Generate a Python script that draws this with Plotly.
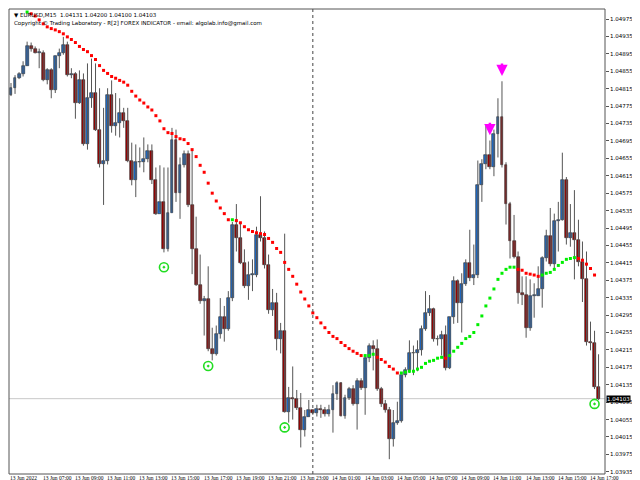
import plotly.graph_objects as go

# prices in points (1e-5)
first_open = 104800
closes = [104816,104839,104848,104868,104914,104907,104898,104898,104834,104857,
104812,104889,104896,104916,104846,104848,104782,104834,104687,104793,
104805,104721,104641,104648,104800,104730,104737,104759,104741,104648,
104605,104646,104646,104653,104671,104605,104528,104555,104446,104530,
104696,104575,104639,104666,104548,104446,104364,104327,104332,104216,
104205,104252,104291,104264,104334,104503,104471,104414,104362,104387,
104387,104480,104473,104409,104307,104323,104239,104259,104073,104105,
104102,104082,104032,104062,104077,104071,104080,104077,104068,104077,
104114,104139,104064,104105,104125,104091,104143,104127,104196,104223,
104218,104125,104091,104077,104011,104048,104052,104157,104168,104209,
104207,104214,104264,104300,104309,104239,104239,104250,104173,104291,
104373,104323,104366,104414,104380,104387,104593,104641,104662,104634,
104712,104750,104639,104550,104466,104428,104346,104341,104266,104339,
104339,104355,104425,104477,104412,104512,104514,104605,104473,104484,
104468,104416,104377,104234,104230,104130,104102]
highs = [104828,104846,104853,104878,104923,104921,104912,104907,104903,104862,
104862,104891,104907,104934,104923,104862,104853,104857,104850,104873,
104884,104873,104816,104771,104816,104834,104805,104793,104771,104771,
104691,104687,104680,104703,104687,104687,104634,104639,104634,104634,
104725,104721,104657,104673,104673,104673,104521,104434,104339,104407,
104266,104271,104334,104316,104350,104509,104550,104509,104446,104418,
104423,104498,104568,104487,104434,104355,104346,104277,104482,104130,
104177,104123,104116,104077,104100,104077,104089,104089,104084,104089,
104134,104143,104141,104112,104130,104134,104150,104150,104202,104230,
104237,104239,104130,104100,104084,104077,104096,104157,104175,104237,
104225,104237,104271,104350,104341,104312,104248,104259,104271,104291,
104384,104377,104391,104423,104491,104457,104650,104653,104732,104696,
104721,104793,104832,104646,104555,104525,104441,104384,104384,104377,
104368,104407,104430,104491,104541,104528,104555,104668,104612,104550,
104582,104514,104464,104441,104280,104259,104205]
lows = [104798,104803,104837,104843,104868,104900,104896,104862,104832,104825,
104793,104805,104862,104893,104843,104839,104746,104780,104684,104675,
104771,104718,104634,104548,104641,104714,104707,104703,104725,104646,
104593,104566,104634,104623,104646,104596,104525,104532,104439,104441,
104532,104555,104516,104634,104543,104389,104362,104321,104248,104212,
104191,104202,104241,104234,104259,104327,104441,104412,104357,104330,
104350,104382,104464,104402,104298,104293,104214,104207,104071,104048,
104055,104077,103991,104016,104062,104066,104062,104059,104062,104062,
104025,104100,104062,104057,104100,104087,104032,104123,104066,104187,
104168,104121,104084,104071,103964,103993,104043,104048,104152,104162,
104157,104166,104202,104259,104293,104234,104225,104202,104168,104171,
104275,104277,104255,104362,104373,104364,104380,104555,104630,104630,
104614,104657,104634,104503,104425,104425,104321,104318,104243,104259,
104289,104339,104312,104418,104407,104402,104441,104512,104457,104452,
104377,104407,104325,104225,104214,104125,104100]

trend_start = 4
trend = [104991,104987,104982,104973,104964,104957,104953,104950,104946,104941,
104934,104928,104921,104912,104905,104900,104891,104882,104868,104857,
104850,104843,104839,104834,104830,104823,104809,104798,104789,104782,
104773,104766,104753,104741,104723,104714,104712,104705,104700,104698,
104689,104675,104659,104639,104623,104598,104575,104557,104541,104528,
104514,104514,104512,104507,104498,104491,104487,104484,104482,104480,
104471,104462,104448,104439,104416,104400,104384,104366,104348,104332,
104316,104300,104289,104277,104266,104255,104246,104241,104232,104225,
104218,104212,104207,104202,104202,104202,104205,104198,104193,104187,
104177,104171,104162,104162,104164,104166,104166,104171,104175,104184,
104189,104191,104196,104198,104196,104202,104212,104221,104230,104241,
104246,104255,104273,104293,104316,104334,104355,104377,104391,104400,
104405,104405,104400,104398,104391,104389,104387,104384,104387,104391,
104393,104400,104409,104416,104423,104425,104427,104425,104421,104412,
104402,104387]

buy_bars = [38, 49, 68, 145]
sell_bars = [119, 122]
time_labels = ["13 Jun 2022","13 Jun 07:00","13 Jun 09:00","13 Jun 11:00","13 Jun 13:00",
"13 Jun 15:00","13 Jun 17:00","13 Jun 19:00","13 Jun 21:00","13 Jun 23:00",
"14 Jun 01:00","14 Jun 03:00","14 Jun 05:00","14 Jun 07:00","14 Jun 09:00",
"14 Jun 11:00","14 Jun 13:00","14 Jun 15:00","14 Jun 17:00"]
price_ticks = [1.03935 + 0.0004*k for k in range(27)]
day_sep_bar = 75
current_price = 1.04103

P = lambda v: v / 1e5
n = len(closes)
idx = list(range(n))
opens = [first_open] + closes[:-1]

fig = go.Figure()

wx, wy = [], []
for i in idx:
    wx += [i, i, None]
    wy += [P(highs[i]), P(lows[i]), None]
fig.add_trace(go.Scatter(x=wx, y=wy, mode="lines", line=dict(color="#555555", width=1),
    showlegend=False, hoverinfo="skip"))

bcol = ["#1f6fd1" if c >= o else "#a00000" for o, c in zip(opens, closes)]
base = [P(min(o, c)) for o, c in zip(opens, closes)]
hgt = [max(P(abs(c - o)), 0.000015) for o, c in zip(opens, closes)]
fig.add_trace(go.Bar(x=idx, y=hgt, base=base, width=0.72,
    marker=dict(color=bcol, line=dict(color="#222222", width=0.6)),
    showlegend=False, hoverinfo="skip"))

tx = list(range(trend_start, trend_start + len(trend)))
tcol = []
for k, v in enumerate(trend):
    if k == 0:
        tcol.append("#00ee00")
    else:
        tcol.append("#00ee00" if v >= trend[k-1] else "#ff0000")
fig.add_trace(go.Scatter(x=tx, y=[P(v) for v in trend], mode="markers",
    marker=dict(symbol="square", size=3, color=tcol, line=dict(width=0)),
    showlegend=False, hoverinfo="skip"))

fig.add_trace(go.Scatter(x=buy_bars, y=[P(lows[b]) - 0.00034 for b in buy_bars], mode="markers",
    marker=dict(symbol="circle-open-dot", size=9, color="#22dd22", line=dict(width=1.6)),
    showlegend=False, hoverinfo="skip"))

for b in sell_bars:
    fig.add_annotation(x=b, y=P(highs[b]) + 0.00012, ax=0, ay=-14, showarrow=True,
        arrowhead=2, arrowsize=0.9, arrowwidth=2.5, arrowcolor="#ff00ff", text="")

fig.add_shape(type="line", x0=day_sep_bar, x1=day_sep_bar, y0=0, y1=1, yref="paper",
    line=dict(color="#444", width=1, dash="dot"))
fig.add_shape(type="line", x0=0, x1=1, xref="paper", y0=current_price, y1=current_price,
    line=dict(color="#c8c8c8", width=1), layer="below")
fig.add_shape(type="rect", x0=0, x1=1, y0=0, y1=1, xref="paper", yref="paper",
    line=dict(color="#555", width=1))

for k, lab in enumerate(time_labels):
    fig.add_annotation(x=k*8 - 0.4, y=0, yref="paper", yanchor="top", xanchor="left",
        text=lab, showarrow=False, borderpad=0,
        font=dict(family="Liberation Sans Narrow", size=5.5, color="#000"), yshift=0)

fig.add_annotation(x=1, xref="paper", y=current_price, xanchor="left", text="%.5f" % current_price,
    showarrow=False, bgcolor="#000", font=dict(size=5.5, color="#fff"), borderpad=0, xshift=1)

fig.add_annotation(x=0, y=1, xref="paper", yref="paper", xanchor="left", yanchor="top",
    text="▼ EURUSD,M15  1.04131 1.04200 1.04100 1.04103", showarrow=False,
    font=dict(size=5.5, color="#000"), xshift=3, yshift=-1)
fig.add_annotation(x=0, y=1, xref="paper", yref="paper", xanchor="left", yanchor="top",
    text="Copyright © Trading Laboratory - R[2] FOREX INDICATOR - email: algolab.info@gmail.com",
    showarrow=False, font=dict(size=5.5, color="#000"), xshift=3, yshift=-9)

fig.update_layout(
    width=640, height=480, margin=dict(l=1, r=43, t=1, b=14),
    paper_bgcolor="white", plot_bgcolor="white", bargap=0,
    font=dict(family="DejaVu Sans", size=5.5, color="#000"),
    xaxis=dict(range=[-0.5, 147.6], showticklabels=False, showgrid=False, zeroline=False,
               fixedrange=True),
    yaxis=dict(range=[1.0393, 1.04998], side="right", tickvals=price_ticks,
               ticktext=["%.5f" % t for t in price_ticks], ticks="outside", ticklen=3,
               tickcolor="#555", showgrid=False, zeroline=False),
)
fig.write_html("out.html")
